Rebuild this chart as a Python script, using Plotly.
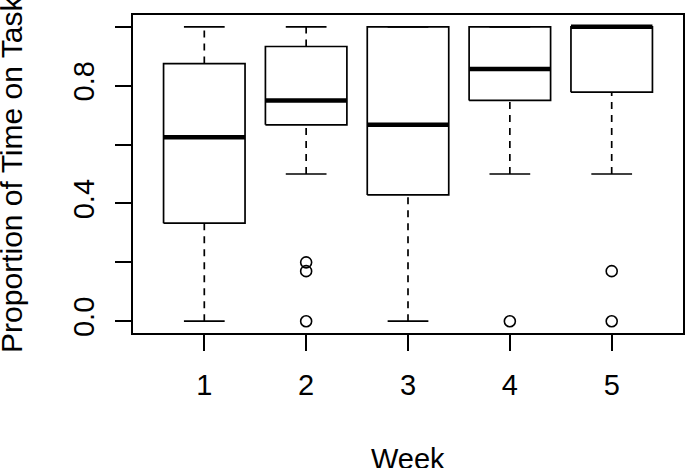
import plotly.graph_objects as go

# Box statistics per week
weeks = [1, 2, 3, 4, 5]
q1 = [0.333, 0.667, 0.429, 0.75, 0.778]
medians = [0.625, 0.75, 0.667, 0.857, 1.0]
q3 = [0.875, 0.933, 1.0, 1.0, 1.0]
lower_whisker = [0.0, 0.5, 0.0, 0.5, 0.5]
upper_whisker = [1.0, 1.0, 1.0, 1.0, 1.0]

# outliers
outlier_week = [2, 2, 2, 4, 5, 5]
outlier_value = [0.2, 0.17, 0.0, 0.0, 0.17, 0.0]

y_ticks = [0.0, 0.2, 0.4, 0.6, 0.8, 1.0]
y_ticklabels = ["0.0", "", "0.4", "", "0.8", ""]

half_box = 0.4
half_cap = 0.2
FONT = "Liberation Sans, Arial, sans-serif"
FS = 29

box_x, box_y = [], []
med_x, med_y = [], []
wh_x, wh_y = [], []
cap_x, cap_y = [], []
for w, a, m, b, lo, hi in zip(weeks, q1, medians, q3, lower_whisker, upper_whisker):
    box_x += [w - half_box, w + half_box, w + half_box, w - half_box, w - half_box, None]
    box_y += [a, a, b, b, a, None]
    med_x += [w - half_box, w + half_box, None]
    med_y += [m, m, None]
    wh_x += [w, w, None, w, w, None]
    wh_y += [b, hi, None, lo, a, None]
    cap_x += [w - half_cap, w + half_cap, None, w - half_cap, w + half_cap, None]
    cap_y += [hi, hi, None, lo, lo, None]

fig = go.Figure()

fig.add_trace(go.Scatter(x=wh_x, y=wh_y, mode="lines",
                         line=dict(color="black", width=1.7, dash="7px,6px"),
                         hoverinfo="skip"))
fig.add_trace(go.Scatter(x=cap_x, y=cap_y, mode="lines",
                         line=dict(color="black", width=1.7), hoverinfo="skip"))
fig.add_trace(go.Scatter(x=box_x, y=box_y, mode="lines",
                         line=dict(color="black", width=1.7), hoverinfo="skip"))
fig.add_trace(go.Scatter(x=med_x, y=med_y, mode="lines",
                         line=dict(color="black", width=4.5), hoverinfo="skip"))
fig.add_trace(go.Scatter(x=outlier_week, y=outlier_value, mode="markers",
                         marker=dict(symbol="circle-open", size=11, color="black",
                                     line=dict(width=1.6, color="black")),
                         hoverinfo="skip"))

fig.update_layout(
    width=685, height=468, autosize=False,
    margin=dict(l=133, r=2, t=15, b=135),
    plot_bgcolor="white", paper_bgcolor="white",
    showlegend=False,
    font=dict(family=FONT, size=FS, color="black"),
)
fig.update_xaxes(
    range=[0.3, 5.7], tickvals=weeks, ticktext=[str(w) for w in weeks],
    ticks="outside", ticklen=16, tickwidth=1.7, tickcolor="black",
    showline=True, mirror=True, linecolor="black", linewidth=1.7,
    showgrid=False, zeroline=False, ticklabelstandoff=9, automargin=False,
    tickfont=dict(size=FS, family=FONT, color="black"),
)
fig.update_yaxes(
    range=[-0.04, 1.04], tickvals=y_ticks, ticktext=y_ticklabels,
    ticks="outside", ticklen=16, tickwidth=1.7, tickcolor="black",
    showline=True, mirror=True, linecolor="black", linewidth=1.7,
    showgrid=False, zeroline=False, tickangle=-90, ticklabelstandoff=10,
    automargin=False,
    tickfont=dict(size=FS, family=FONT, color="black"),
)

fig.add_annotation(text="Week", xref="paper", yref="paper",
                   x=0.5, y=-0.34, xanchor="center", yanchor="top",
                   showarrow=False, font=dict(size=FS, family=FONT, color="black"))
fig.add_annotation(text="Proportion of Time on Task", xref="paper", yref="paper",
                   x=-0.222, y=0.5, xanchor="center", yanchor="middle", textangle=-90,
                   showarrow=False, font=dict(size=30, family=FONT, color="black"))

# drop the default 8px page margin so the figure fills the window
fig.write_html("out.html", config={"displayModeBar": False},
               post_script="document.body.style.margin='0';")
